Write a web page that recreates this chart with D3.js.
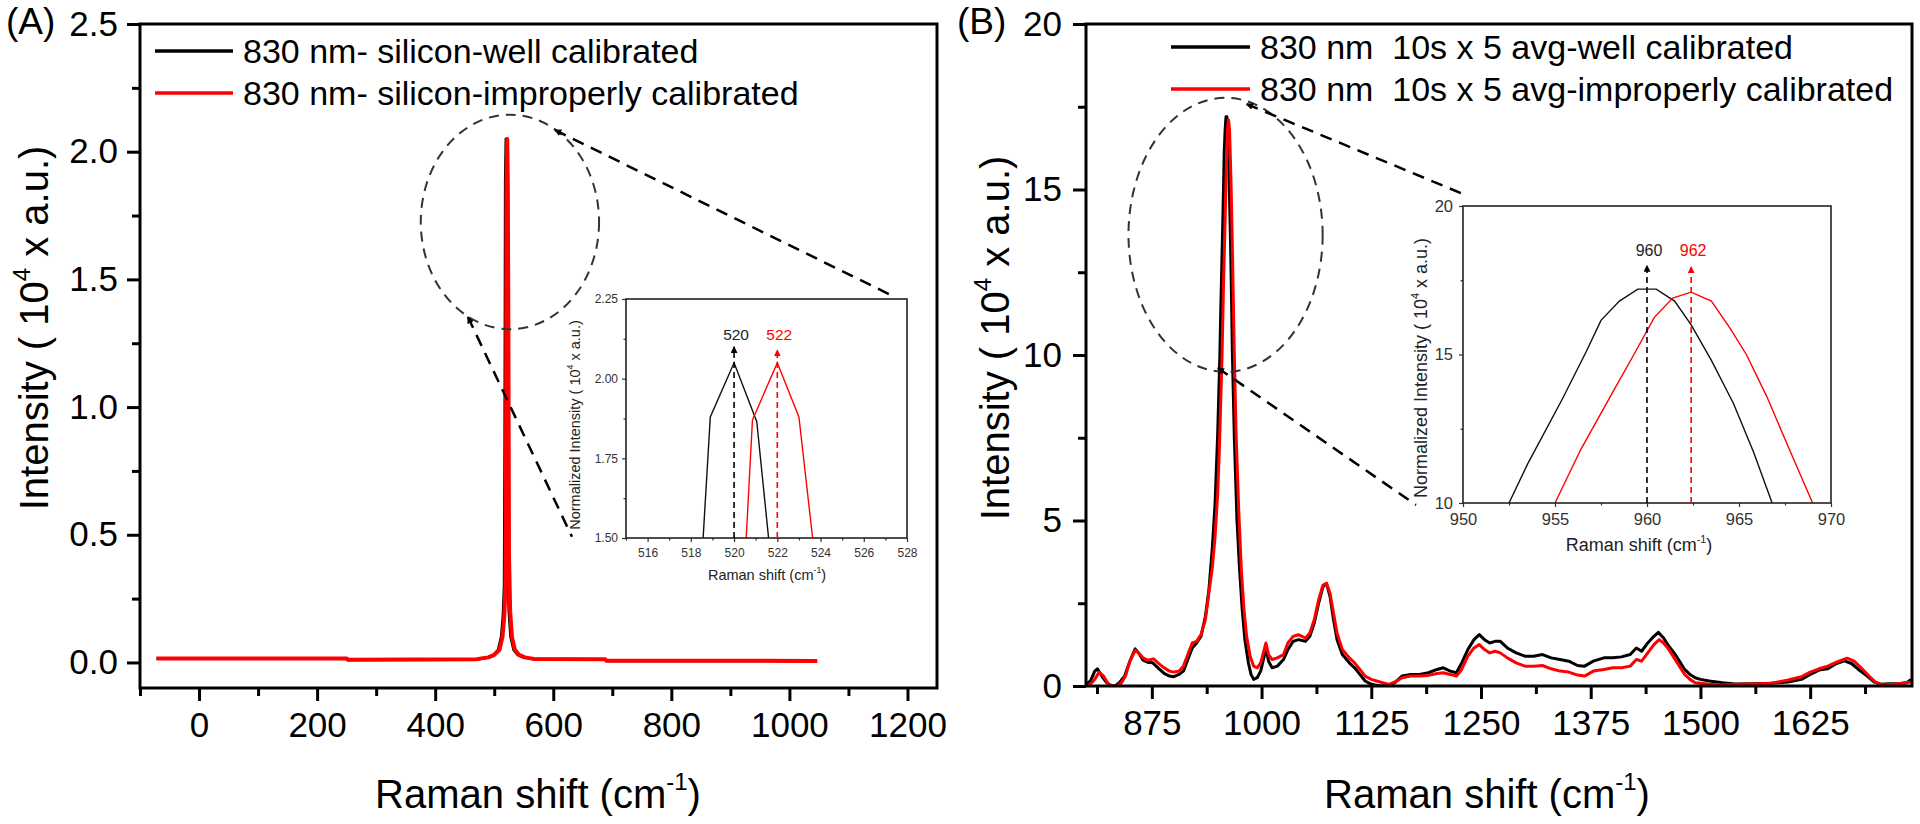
<!DOCTYPE html>
<html>
<head>
<meta charset="utf-8">
<script src="https://cdn.jsdelivr.net/npm/d3@7"></script>
<style>
  html, body { margin: 0; padding: 0; background: #fff; }
  svg { display: block; }
  text { font-family: "Liberation Sans", Arial, sans-serif; white-space: pre; }
</style>
</head>
<body>
<svg id="chart" width="1920" height="824"></svg>
<script>
// ===================== DATA =====================
// Panel A: silicon spectrum (Raman shift cm-1, intensity x10^4)
const aWell = [[-72,0.016],[250,0.016],[252,0.011],[470,0.012],[490,0.02],[500,0.03],[507,0.05],[512,0.1],[515,0.18],[517,0.3],[518,0.85],[518.9,1.88],[520,2.05],[521.05,1.865],[522,1.23],[523,0.4],[525,0.2],[528,0.1],[533,0.05],[540,0.03],[550,0.02],[565,0.014],[688,0.012],[690,0.007],[1047,0.006]];
const aBad  = [[-72,0.016],[250,0.016],[252,0.011],[470,0.013],[490,0.02],[500,0.03],[509,0.05],[514,0.1],[517,0.18],[519,0.3],[520,0.78],[520.85,1.87],[522,2.05],[523,1.88],[524,1.28],[525,0.42],[527,0.2],[530,0.1],[535,0.05],[542,0.03],[552,0.02],[567,0.014],[688,0.013],[690,0.007],[1047,0.006]];
const aLegend = ["830 nm- silicon-well calibrated", "830 nm- silicon-improperly calibrated"];
const aXTicks = [0,200,400,600,800,1000,1200];
const aXMinor = [-100,100,300,500,700,900,1100];
const aYTicks = [0,0.5,1.0,1.5,2.0,2.5];
const aYMinor = [0.25,0.75,1.25,1.75,2.25];
const aInsetXTicks = [516,518,520,522,524,526,528];
const aInsetXMinor = [515,517,519,521,523,525,527];
const aInsetYTicks = [1.5,1.75,2.0,2.25];
const aInsetYMinor = [1.625,1.875,2.125];
const aPeaks = [520, 522];
const aPeakLabels = ["520", "522"];
const aPeakTops = [2.10, 2.09];

// Panel B: sample spectrum
const bWell = [[800,0.05],[805,0.15],[810,0.45],[813,0.52],[818,0.3],[823,0.12],[828,0.0],[833,0.0],[838,0.1],[844,0.3],[850,0.75],[856,1.12],[860,1.0],[865,0.78],[870,0.72],[876,0.7],[882,0.55],[889,0.38],[895,0.3],[900,0.28],[906,0.35],[911,0.45],[916,0.8],[921,1.15],[926,1.3],[931,1.5],[936,2.1],[940,2.9],[944,4.2],[947,5.5],[950,7.6],[952.5,10.0],[953.5,11.3],[955.4,13.5],[956.7,15.1],[957.5,16.15],[958.5,16.8],[959.5,17.2],[960.5,17.2],[961.5,16.8],[962.4,16.0],[963.5,14.8],[964.7,13.35],[965.8,11.7],[966.8,10.0],[969,7.5],[972,5.0],[975,3.5],[978,2.3],[981,1.4],[985,0.7],[988,0.35],[991,0.2],[995,0.25],[999,0.45],[1003,0.9],[1005,1.15],[1008,0.75],[1012,0.55],[1018,0.6],[1025,0.8],[1030,1.1],[1036,1.35],[1042,1.4],[1050,1.35],[1055,1.5],[1060,1.9],[1065,2.5],[1070,3.0],[1074,3.1],[1078,2.7],[1082,2.0],[1086,1.4],[1092,0.95],[1100,0.7],[1106,0.55],[1112,0.35],[1118,0.15],[1125,0.05],[1135,0.0],[1145,0.02],[1152,0.1],[1160,0.3],[1170,0.35],[1180,0.35],[1190,0.4],[1200,0.5],[1207,0.55],[1215,0.45],[1222,0.4],[1228,0.7],[1235,1.1],[1242,1.4],[1248,1.55],[1254,1.4],[1260,1.3],[1266,1.35],[1272,1.35],[1280,1.15],[1290,1.0],[1300,0.9],[1310,0.9],[1320,0.95],[1330,0.85],[1340,0.8],[1350,0.75],[1360,0.62],[1368,0.6],[1378,0.75],[1390,0.85],[1400,0.85],[1410,0.88],[1420,0.95],[1427,1.15],[1433,1.05],[1440,1.3],[1447,1.5],[1452,1.62],[1458,1.45],[1464,1.2],[1470,1.0],[1476,0.75],[1482,0.5],[1488,0.35],[1494,0.25],[1500,0.2],[1510,0.15],[1525,0.1],[1540,0.06],[1560,0.07],[1580,0.08],[1600,0.12],[1615,0.2],[1625,0.35],[1635,0.48],[1645,0.52],[1655,0.68],[1664,0.76],[1672,0.68],[1680,0.5],[1690,0.3],[1698,0.12],[1706,0.05],[1715,0.07],[1725,0.07],[1735,0.1],[1740,0.2]];
const bBad = [[800,0.0],[805,0.05],[810,0.2],[815,0.42],[820,0.3],[825,0.08],[830,0.0],[835,0.0],[840,0.08],[845,0.3],[850,0.75],[856,1.08],[860,1.0],[865,0.85],[870,0.78],[877,0.82],[882,0.7],[889,0.55],[895,0.45],[900,0.42],[906,0.45],[911,0.6],[916,0.95],[921,1.3],[926,1.35],[931,1.55],[936,2.0],[940,2.8],[944,3.6],[947,4.5],[950,5.8],[952,7.2],[955,10.0],[956.4,11.8],[958.2,13.8],[959.2,14.9],[960.4,16.25],[961.4,16.9],[962.4,17.1],[963.5,16.8],[964.5,15.9],[965.4,15.0],[966.5,13.6],[967.6,12.0],[969,10.0],[971,7.6],[974,5.3],[977,3.5],[980,2.3],[983,1.5],[987,0.9],[991,0.6],[995,0.55],[999,0.7],[1003,1.1],[1005,1.3],[1008,0.95],[1012,0.8],[1018,0.85],[1025,0.95],[1030,1.3],[1036,1.5],[1042,1.55],[1050,1.45],[1055,1.6],[1060,2.0],[1065,2.6],[1070,3.05],[1074,3.1],[1078,2.8],[1082,2.2],[1086,1.6],[1092,1.1],[1100,0.85],[1106,0.7],[1112,0.5],[1118,0.3],[1125,0.2],[1135,0.12],[1145,0.05],[1152,0.12],[1160,0.25],[1170,0.3],[1180,0.3],[1190,0.32],[1200,0.38],[1207,0.4],[1215,0.35],[1222,0.3],[1228,0.5],[1235,0.9],[1242,1.15],[1248,1.25],[1254,1.1],[1260,1.0],[1266,1.05],[1272,1.0],[1280,0.85],[1290,0.7],[1300,0.6],[1310,0.6],[1320,0.62],[1330,0.52],[1340,0.45],[1350,0.42],[1360,0.33],[1368,0.3],[1378,0.45],[1390,0.5],[1400,0.55],[1410,0.55],[1420,0.6],[1427,0.8],[1433,0.75],[1440,1.0],[1447,1.25],[1453,1.4],[1458,1.3],[1464,1.1],[1470,0.85],[1476,0.6],[1482,0.35],[1488,0.2],[1494,0.1],[1500,0.08],[1510,0.05],[1525,0.03],[1540,0.05],[1560,0.06],[1580,0.08],[1600,0.18],[1615,0.28],[1625,0.42],[1635,0.52],[1645,0.6],[1655,0.72],[1667,0.84],[1675,0.75],[1683,0.55],[1692,0.3],[1700,0.1],[1708,0.03],[1720,0.05],[1730,0.08],[1740,0.12]];
const bLegend = ["830 nm  10s x 5 avg-well calibrated", "830 nm  10s x 5 avg-improperly calibrated"];
const bXTicks = [875,1000,1125,1250,1375,1500,1625];
const bXMinor = [812.5,937.5,1062.5,1187.5,1312.5,1437.5,1562.5,1687.5];
const bYTicks = [0,5,10,15,20];
const bYMinor = [2.5,7.5,12.5,17.5];
const bInsetXTicks = [950,955,960,965,970];
const bInsetXMinor = [952.5,957.5,962.5,967.5];
const bInsetYTicks = [10,15,20];
const bInsetYMinor = [12.5,17.5];
const bPeaks = [960, 962.4];
const bPeakLabels = ["960", "962"];
const bPeakTops = [18.0, 17.95];

// zoom annotations (main-plot data units): ring centre/radii and connector ends
const aRing = [526.6, 1.725, 151, 0.42];
const aLinks = [[[602.8,2.085],[1170.7,1.44]], [[455.4,1.353],[631.7,0.492]]];
const bRing = [959, 13.63, 110.6, 4.14];
const bLinks = [[[983,17.58],[1232.7,14.83]], [[950.1,9.61],[1175.9,5.47]]];

// ===================== DRAWING =====================
const FONT = '"Liberation Sans", Arial, sans-serif';
const RED = "#ff0000";
const svg = d3.select("#chart");
const defs = svg.append("defs");

function makeMarker(id, color, size) {
  defs.append("marker").attr("id", id)
    .attr("viewBox", "0 0 10 10").attr("refX", 9).attr("refY", 5)
    .attr("markerWidth", size).attr("markerHeight", size)
    .attr("markerUnits", "userSpaceOnUse").attr("orient", "auto-start-reverse")
    .append("path").attr("d", "M0,0 L10,5 L0,10 Z").attr("fill", color).attr("stroke", "none");
}
makeMarker("arrK", "#000", 7);
makeMarker("arrR", RED, 7);
makeMarker("arrC", "#000", 7);

let clipId = 0;
function clipRect(x0, y0, x1, y1) {
  const id = "clip" + (clipId++);
  defs.append("clipPath").attr("id", id).append("rect")
    .attr("x", x0).attr("y", y0).attr("width", x1 - x0).attr("height", y1 - y0);
  return "url(#" + id + ")";
}

function styleAxis(sel, fs, sw, color) {
  sel.attr("font-family", FONT).attr("font-size", fs);
  sel.select(".domain").remove();
  sel.selectAll(".tick line").attr("stroke", color).attr("stroke-width", sw);
  sel.selectAll(".tick text").attr("fill", color);
}

function drawAxes(g, x, y, o) {
  styleAxis(g.append("g").attr("transform", `translate(0,${o.bottom})`)
    .call(d3.axisBottom(x).tickValues(o.xMinor).tickSize(o.minorLen).tickFormat("")), o.fs, o.sw, o.color);
  styleAxis(g.append("g").attr("transform", `translate(0,${o.bottom})`)
    .call(d3.axisBottom(x).tickValues(o.xTicks).tickSize(o.majorLen).tickPadding(o.xPad).tickFormat(o.xFmt)), o.fs, o.sw, o.color);
  styleAxis(g.append("g").attr("transform", `translate(${o.left},0)`)
    .call(d3.axisLeft(y).tickValues(o.yMinor).tickSize(o.minorLen).tickFormat("")), o.fs, o.sw, o.color);
  styleAxis(g.append("g").attr("transform", `translate(${o.left},0)`)
    .call(d3.axisLeft(y).tickValues(o.yTicks).tickSize(o.majorLen).tickPadding(o.yPad).tickFormat(o.yFmt)), o.fs, o.sw, o.color);
}

function intensityLabel(g, cx, cy, fs, prefix, color) {
  const t = g.append("text").attr("transform", `translate(${cx},${cy}) rotate(-90)`)
    .attr("text-anchor", "middle").attr("font-size", fs).attr("fill", color);
  t.append("tspan").text(prefix + "Intensity ( 10");
  t.append("tspan").attr("font-size", fs * 0.6).attr("dy", -fs * 0.45).text("4");
  t.append("tspan").attr("dy", fs * 0.45).text(" x a.u.)");
}

function ramanLabel(g, cx, by, fs, color) {
  const t = g.append("text").attr("x", cx).attr("y", by).attr("text-anchor", "middle")
    .attr("font-size", fs).attr("fill", color);
  t.append("tspan").text("Raman shift (cm");
  t.append("tspan").attr("font-size", fs * 0.6).attr("dy", -fs * 0.45).text("-1");
  t.append("tspan").attr("dy", fs * 0.45).text(")");
}

const line = (x, y) => d3.line().x(d => x(d[0])).y(d => y(d[1]));

function drawPanel(p) {
  const g = svg.append("g");
  const x = d3.scaleLinear().domain(p.xDomain).range([p.left, p.right]);
  const y = d3.scaleLinear().domain(p.yDomain).range([p.bottom, p.top]);
  const clip = clipRect(p.left, p.top, p.right, p.bottom);

  const lg = g.append("g").attr("clip-path", clip);
  lg.append("path").datum(p.well).attr("d", line(x, y)).attr("fill", "none")
    .attr("stroke", "#000").attr("stroke-width", p.wellW).attr("stroke-linejoin", "round");
  lg.append("path").datum(p.bad).attr("d", line(x, y)).attr("fill", "none")
    .attr("stroke", RED).attr("stroke-width", p.badW).attr("stroke-linejoin", "round");

  drawAxes(g, x, y, {
    left: p.left, bottom: p.bottom, xTicks: p.xTicks, xMinor: p.xMinor, yTicks: p.yTicks, yMinor: p.yMinor,
    majorLen: 13, minorLen: 8, xPad: 11.5, yPad: p.yPad, fs: 35, sw: 3, color: "#000",
    xFmt: d3.format("d"), yFmt: p.yFmt
  });

  g.append("rect").attr("x", p.left).attr("y", p.top)
    .attr("width", p.right - p.left).attr("height", p.bottom - p.top)
    .attr("fill", "none").attr("stroke", "#000").attr("stroke-width", 3);

  ramanLabel(g, p.xTitleX, 808, 40, "#000");
  intensityLabel(g, p.yTitleX, p.yTitleY, 40, "", "#000");

  g.append("text").attr("x", p.letterX).attr("y", 34).attr("font-size", 37).attr("fill", "#000").text(p.letter);

  const colors = ["#000", RED];
  p.legend.forEach((txt, i) => {
    const ly = p.legendY[i];
    g.append("line").attr("x1", p.legendX0).attr("x2", p.legendX1).attr("y1", ly).attr("y2", ly)
      .attr("stroke", colors[i]).attr("stroke-width", 3.5);
    g.append("text").attr("x", p.legendX1 + 10).attr("y", ly + 12).attr("font-size", 34)
      .attr("fill", "#000").text(txt);
  });

  const r = p.ring;
  g.append("ellipse").attr("cx", x(r[0])).attr("cy", y(r[1]))
    .attr("rx", x(r[0] + r[2]) - x(r[0])).attr("ry", y(r[1] - r[3]) - y(r[1]))
    .attr("fill", "none").attr("stroke", "#333").attr("stroke-width", 2).attr("stroke-dasharray", "10,7");
  p.links.forEach(l => {
    g.append("line").attr("x1", x(l[0][0])).attr("y1", y(l[0][1]))
      .attr("x2", x(l[1][0])).attr("y2", y(l[1][1]))
      .attr("stroke", "#000").attr("stroke-width", 2.5).attr("stroke-dasharray", "12,8")
      .attr("marker-start", "url(#arrC)");
  });

  drawInset(p.inset, p.well, p.bad);
}

function drawInset(o, well, bad) {
  const g = svg.append("g");
  const x = d3.scaleLinear().domain(o.xDomain).range([o.left, o.right]);
  const y = d3.scaleLinear().domain(o.yDomain).range([o.bottom, o.top]);
  const clip = clipRect(o.left, o.top, o.right, o.bottom);
  const lg = g.append("g").attr("clip-path", clip);
  lg.append("path").datum(well).attr("d", line(x, y)).attr("fill", "none")
    .attr("stroke", "#111").attr("stroke-width", 1.4);
  lg.append("path").datum(bad).attr("d", line(x, y)).attr("fill", "none")
    .attr("stroke", RED).attr("stroke-width", 1.4);

  drawAxes(g, x, y, {
    left: o.left, bottom: o.bottom, xTicks: o.xTicks, xMinor: o.xMinor, yTicks: o.yTicks, yMinor: o.yMinor,
    majorLen: 4, minorLen: 2.5, xPad: o.xPad, yPad: o.yPad, fs: o.fs, sw: 1.2, color: "#333",
    xFmt: d3.format("d"), yFmt: o.yFmt
  });
  g.append("rect").attr("x", o.left).attr("y", o.top)
    .attr("width", o.right - o.left).attr("height", o.bottom - o.top)
    .attr("fill", "none").attr("stroke", "#222").attr("stroke-width", 1.6);

  ramanLabel(g, o.xTitleX, o.xTitleY, o.titleFs, "#222");
  intensityLabel(g, o.yTitleX, o.yTitleY, o.titleFs, "Normalized ", "#222");

  const colors = ["#000", RED];
  const markers = ["url(#arrK)", "url(#arrR)"];
  o.peaks.forEach((pk, i) => {
    g.append("line").attr("x1", x(pk)).attr("x2", x(pk)).attr("y1", o.bottom).attr("y2", y(o.tops[i]))
      .attr("stroke", colors[i]).attr("stroke-width", 1.6).attr("stroke-dasharray", "6,4")
      .attr("marker-end", markers[i]);
    g.append("text").attr("x", x(pk) + 2).attr("y", o.labelY).attr("text-anchor", "middle")
      .attr("font-size", o.peakFs).attr("fill", i === 0 ? "#222" : RED).text(o.labels[i]);
  });
}

drawPanel({
  letter: "(A)", letterX: 6,
  xDomain: [-100, 1250], yDomain: [-0.1, 2.5],
  left: 140, right: 937, top: 24, bottom: 688,
  well: aWell, bad: aBad, wellW: 3, badW: 4,
  xTicks: aXTicks, xMinor: aXMinor, yTicks: aYTicks, yMinor: aYMinor,
  yFmt: d3.format(".1f"), yPad: 9,
  xTitleX: 538, yTitleX: 48, yTitleY: 328,
  legend: aLegend, legendX0: 155, legendX1: 233, legendY: [51, 93],
  ring: aRing, links: aLinks,
  inset: {
    xDomain: [515, 528], yDomain: [1.5, 2.25],
    left: 626, right: 907, top: 299, bottom: 538,
    xTicks: aInsetXTicks, xMinor: aInsetXMinor, yTicks: aInsetYTicks, yMinor: aInsetYMinor,
    yFmt: d3.format(".2f"), fs: 12, xPad: 6, yPad: 4,
    titleFs: 14.5, xTitleX: 767, xTitleY: 580, yTitleX: 580, yTitleY: 425,
    peaks: aPeaks, labels: aPeakLabels, tops: aPeakTops, labelY: 340, peakFs: 15.5
  }
});

drawPanel({
  letter: "(B)", letterX: 957,
  xDomain: [800, 1741], yDomain: [0, 20],
  left: 1086, right: 1912, top: 24, bottom: 686,
  well: bWell, bad: bBad, wellW: 3, badW: 3,
  xTicks: bXTicks, xMinor: bXMinor, yTicks: bYTicks, yMinor: bYMinor,
  yFmt: d3.format("d"), yPad: 11,
  xTitleX: 1487, yTitleX: 1009, yTitleY: 338,
  legend: bLegend, legendX0: 1171, legendX1: 1250, legendY: [47, 89],
  ring: bRing, links: bLinks,
  inset: {
    xDomain: [950, 970], yDomain: [10, 20],
    left: 1463, right: 1831, top: 206, bottom: 503,
    xTicks: bInsetXTicks, xMinor: bInsetXMinor, yTicks: bInsetYTicks, yMinor: bInsetYMinor,
    yFmt: d3.format("d"), fs: 16.5, xPad: 6, yPad: 6,
    titleFs: 18, xTitleX: 1639, xTitleY: 551, yTitleX: 1427, yTitleY: 368,
    peaks: bPeaks, labels: bPeakLabels, tops: bPeakTops, labelY: 256, peakFs: 16
  }
});
</script>
</body>
</html>
